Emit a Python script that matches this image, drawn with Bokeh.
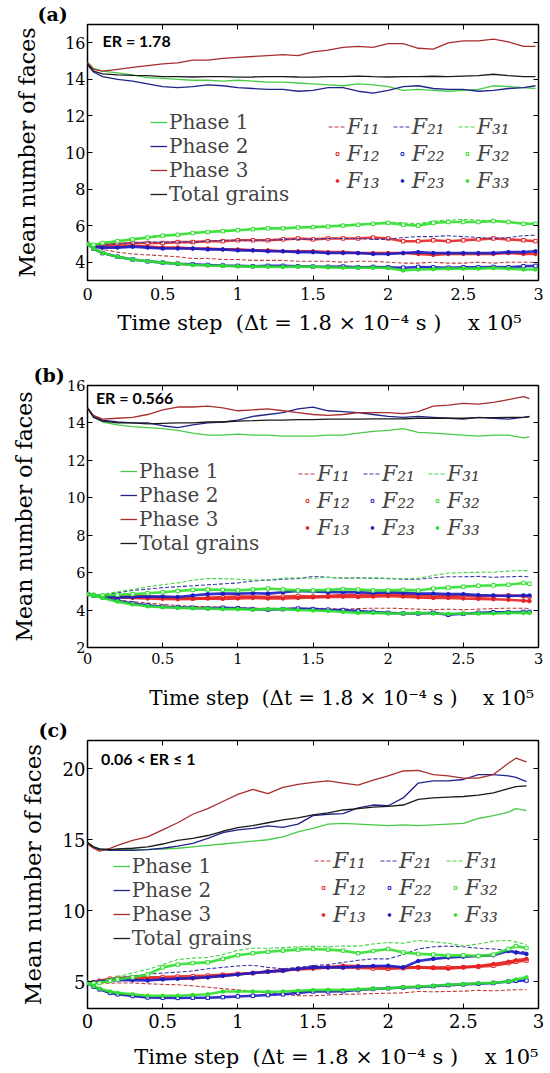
import math
from bokeh.plotting import figure
from bokeh.models import (Range1d, FixedTicker, LinearAxis, Legend, LegendItem,
                          Label, CustomJSTickFormatter)
from bokeh.layouts import column
from bokeh.embed import file_html
from bokeh.resources import INLINE

# ---------------------------------------------------------------- data
X_TICKS = [0, 0.5, 1, 1.5, 2, 2.5, 3]
A_Y_TICKS = [4, 6, 8, 10, 12, 14, 16]
B_Y_TICKS = [2, 4, 6, 8, 10, 12, 14, 16]
C_Y_TICKS = [5, 10, 15, 20]
PHASE_LABELS = ["Phase 1", "Phase 2", "Phase 3", "Total grains"]
F_LABELS = ["F\u2081\u2081", "F\u2081\u2082", "F\u2081\u2083",
            "F\u2082\u2081", "F\u2082\u2082", "F\u2082\u2083",
            "F\u2083\u2081", "F\u2083\u2082", "F\u2083\u2083"]
ER_TEXTS = ["ER = 1.78", "ER = 0.566", "0.06 < ER \u2264 1"]
PANEL_TAGS = ["(a)", "(b)", "(c)"]
Y_TITLE = "Mean number of faces"
X_TITLE = "Time step\u00a0\u00a0(\u0394t = 1.8 \u00d7 10\u207b\u2074 s )\u00a0\u00a0\u00a0\u00a0x 10\u2075"

# panel (a): time step (x 10^5)
XA = [0, 0.04, 0.1, 0.2, 0.3, 0.4, 0.5, 0.6, 0.7, 0.8, 0.9, 1.0, 1.1, 1.2, 1.3, 1.4,
      1.5, 1.6, 1.7, 1.8, 1.9, 2.0, 2.1, 2.2, 2.3, 2.4, 2.5, 2.6, 2.7, 2.8, 2.9, 2.98]
A_PHASE1 = [14.95, 14.6, 14.45, 14.35, 14.25, 14.1, 14.05, 14.0, 13.95, 13.95, 13.9, 13.95, 13.9, 13.85, 13.85, 13.8,
            13.75, 13.7, 13.65, 13.75, 13.7, 13.6, 13.4, 13.45, 13.4, 13.35, 13.4, 13.45, 13.65, 13.6, 13.55, 13.5]
A_PHASE2 = [14.8, 14.4, 14.15, 14.0, 13.9, 13.75, 13.6, 13.55, 13.6, 13.7, 13.65, 13.55, 13.5, 13.45, 13.45, 13.35,
            13.4, 13.55, 13.55, 13.35, 13.25, 13.4, 13.6, 13.65, 13.5, 13.45, 13.45, 13.35, 13.4, 13.5, 13.55, 13.65]
A_PHASE3 = [14.9, 14.55, 14.45, 14.55, 14.65, 14.75, 14.85, 14.9, 15.05, 15.05, 15.15, 15.2, 15.25, 15.3, 15.35, 15.3,
            15.5, 15.6, 15.75, 15.8, 15.75, 15.95, 15.95, 15.7, 15.65, 16.0, 16.1, 16.1, 16.2, 16.05, 15.8, 15.8]
A_TOTAL = [14.85, 14.45, 14.3, 14.25, 14.22, 14.2, 14.15, 14.15, 14.13, 14.15, 14.15, 14.12, 14.13, 14.15, 14.15, 14.13,
           14.12, 14.15, 14.15, 14.18, 14.15, 14.13, 14.15, 14.15, 14.17, 14.15, 14.18, 14.2, 14.28, 14.2, 14.15, 14.15]
A_F11 = [5.0, 4.85, 4.7, 4.55, 4.45, 4.4, 4.35, 4.3, 4.2, 4.2, 4.15, 4.15, 4.1, 4.1, 4.1, 4.05,
         4.05, 4.05, 4.0, 4.05, 4.05, 4.0, 3.95, 3.95, 4.0, 3.95, 3.95, 4.0, 3.95, 4.0, 4.0, 4.0]
A_F12 = [5.0, 4.9, 4.95, 5.0, 5.05, 5.05, 5.05, 5.1, 5.1, 5.15, 5.15, 5.2, 5.2, 5.2, 5.25, 5.3,
         5.25, 5.3, 5.3, 5.3, 5.35, 5.3, 5.15, 5.15, 5.2, 5.15, 5.2, 5.25, 5.3, 5.25, 5.2, 5.15]
A_F13 = [5.0, 4.9, 4.85, 4.85, 4.9, 4.85, 4.8, 4.8, 4.75, 4.75, 4.7, 4.7, 4.65, 4.65, 4.6, 4.6,
         4.6, 4.55, 4.55, 4.5, 4.5, 4.5, 4.5, 4.45, 4.4, 4.45, 4.45, 4.45, 4.45, 4.5, 4.45, 4.45]
A_F21 = [5.0, 4.9, 4.95, 5.0, 5.05, 5.1, 5.1, 5.1, 5.1, 5.15, 5.2, 5.2, 5.2, 5.2, 5.25, 5.25,
         5.25, 5.3, 5.3, 5.3, 5.25, 5.25, 5.35, 5.4, 5.4, 5.45, 5.4, 5.35, 5.3, 5.35, 5.45, 5.48]
A_F22 = [5.0, 4.75, 4.5, 4.3, 4.15, 4.05, 3.98, 3.92, 3.88, 3.85, 3.82, 3.8, 3.78, 3.8, 3.8, 3.78,
         3.76, 3.75, 3.76, 3.72, 3.74, 3.72, 3.7, 3.74, 3.72, 3.7, 3.72, 3.72, 3.74, 3.72, 3.78, 3.8]
A_F23 = [5.0, 4.85, 4.8, 4.8, 4.85, 4.8, 4.75, 4.75, 4.75, 4.7, 4.7, 4.65, 4.65, 4.6, 4.6, 4.55,
         4.55, 4.5, 4.5, 4.5, 4.45, 4.45, 4.5, 4.55, 4.5, 4.5, 4.5, 4.5, 4.5, 4.55, 4.55, 4.6]
A_F31 = [5.0, 4.95, 5.08, 5.18, 5.28, 5.38, 5.48, 5.53, 5.62, 5.68, 5.72, 5.78, 5.82, 5.88, 5.88, 5.92,
         5.95, 5.98, 6.03, 6.08, 6.12, 6.2, 6.15, 6.1, 6.25, 6.3, 6.35, 6.3, 6.25, 6.2, 6.15, 6.1]
A_F32 = [5.0, 4.95, 5.05, 5.15, 5.25, 5.35, 5.45, 5.5, 5.6, 5.65, 5.7, 5.75, 5.8, 5.85, 5.85, 5.9,
         5.92, 5.95, 6.0, 6.05, 6.1, 6.15, 6.05, 6.0, 6.15, 6.2, 6.2, 6.2, 6.25, 6.2, 6.1, 6.1]
A_F33 = [5.0, 4.75, 4.5, 4.3, 4.15, 4.05, 3.98, 3.92, 3.85, 3.82, 3.8, 3.78, 3.76, 3.75, 3.74, 3.76,
         3.75, 3.72, 3.7, 3.7, 3.7, 3.68, 3.55, 3.6, 3.62, 3.65, 3.65, 3.65, 3.68, 3.65, 3.6, 3.6]

# panel (b)
XB = [0, 0.04, 0.1, 0.2, 0.3, 0.4, 0.5, 0.6, 0.7, 0.8, 0.9, 1.0, 1.1, 1.2, 1.3, 1.4,
      1.5, 1.6, 1.7, 1.8, 1.9, 2.0, 2.1, 2.2, 2.3, 2.4, 2.5, 2.6, 2.7, 2.8, 2.9, 2.94]
B_PHASE1 = [14.8, 14.35, 14.05, 13.9, 13.8, 13.75, 13.7, 13.6, 13.45, 13.35, 13.35, 13.4, 13.35, 13.35, 13.3, 13.3,
            13.3, 13.35, 13.35, 13.45, 13.55, 13.6, 13.7, 13.5, 13.45, 13.4, 13.35, 13.3, 13.35, 13.35, 13.2, 13.25]
B_PHASE2 = [14.8, 14.35, 14.15, 14.05, 14.0, 14.0, 13.85, 13.75, 13.9, 14.0, 14.05, 14.15, 14.35, 14.45, 14.55, 14.75,
            14.85, 14.65, 14.6, 14.55, 14.45, 14.35, 14.3, 14.35, 14.3, 14.25, 14.2, 14.3, 14.25, 14.2, 14.3, 14.35]
B_PHASE3 = [14.8, 14.4, 14.2, 14.25, 14.3, 14.45, 14.7, 14.85, 14.85, 14.9, 14.8, 14.65, 14.7, 14.75, 14.65, 14.55,
            14.45, 14.4, 14.45, 14.55, 14.55, 14.55, 14.5, 14.6, 14.9, 14.95, 15.05, 15.0, 15.1, 15.25, 15.4, 15.3]
B_TOTAL = [14.8, 14.3, 14.1, 14.0, 14.0, 13.95, 13.98, 14.0, 14.0, 14.05, 14.05, 14.1, 14.12, 14.15, 14.15, 14.18,
           14.18, 14.2, 14.2, 14.2, 14.22, 14.22, 14.22, 14.25, 14.25, 14.25, 14.25, 14.28, 14.28, 14.3, 14.3, 14.32]
B_F11 = [4.85, 4.78, 4.7, 4.55, 4.45, 4.38, 4.3, 4.25, 4.2, 4.18, 4.15, 4.12, 4.1, 4.1, 4.08, 4.1,
         4.1, 4.08, 4.05, 4.08, 4.1, 4.1, 4.08, 4.05, 4.02, 4.05, 4.02, 4.05, 4.08, 4.1, 4.1, 4.08]
B_F12 = [4.85, 4.8, 4.75, 4.72, 4.75, 4.72, 4.68, 4.65, 4.62, 4.65, 4.7, 4.72, 4.72, 4.7, 4.72, 4.75,
         4.72, 4.75, 4.8, 4.82, 4.82, 4.85, 4.82, 4.8, 4.78, 4.75, 4.78, 4.72, 4.75, 4.78, 4.75, 4.72]
B_F13 = [4.85, 4.8, 4.72, 4.68, 4.65, 4.62, 4.6, 4.58, 4.6, 4.62, 4.6, 4.62, 4.65, 4.62, 4.62, 4.65,
         4.68, 4.7, 4.72, 4.7, 4.72, 4.75, 4.72, 4.68, 4.65, 4.65, 4.62, 4.6, 4.58, 4.55, 4.5, 4.48]
B_F21 = [4.85, 4.82, 4.82, 4.92, 5.05, 5.12, 5.2, 5.25, 5.3, 5.35, 5.4, 5.45, 5.55, 5.6, 5.65, 5.68,
         5.8, 5.75, 5.7, 5.72, 5.7, 5.68, 5.65, 5.65, 5.72, 5.78, 5.78, 5.8, 5.75, 5.78, 5.8, 5.78]
B_F22 = [4.85, 4.78, 4.68, 4.5, 4.35, 4.25, 4.18, 4.15, 4.12, 4.1, 4.12, 4.1, 4.05, 4.02, 4.05, 4.08,
         4.05, 4.02, 4.0, 3.95, 3.9, 3.85, 3.82, 3.82, 3.85, 3.75, 3.8, 3.85, 3.88, 3.88, 3.9, 3.9]
B_F23 = [4.85, 4.8, 4.75, 4.68, 4.7, 4.72, 4.72, 4.7, 4.78, 4.85, 4.88, 4.88, 4.9, 4.88, 4.95, 5.02,
         5.0, 4.95, 4.95, 4.95, 4.92, 4.95, 4.92, 4.88, 4.88, 4.85, 4.85, 4.8, 4.78, 4.75, 4.78, 4.78]
B_F31 = [4.85, 4.82, 4.85, 4.98, 5.1, 5.25, 5.35, 5.45, 5.6, 5.68, 5.68, 5.65, 5.6, 5.62, 5.7, 5.72,
         5.7, 5.75, 5.72, 5.7, 5.72, 5.7, 5.68, 5.7, 5.85, 5.98, 6.0, 6.02, 6.02, 6.08, 6.12, 6.08]
B_F32 = [4.85, 4.8, 4.78, 4.82, 4.85, 4.9, 4.95, 5.02, 5.08, 5.1, 5.08, 5.05, 5.1, 5.15, 5.1, 5.05,
         5.05, 5.08, 5.12, 5.1, 5.05, 5.05, 5.08, 5.05, 5.15, 5.2, 5.25, 5.3, 5.32, 5.35, 5.45, 5.4]
B_F33 = [4.85, 4.78, 4.65, 4.45, 4.3, 4.2, 4.15, 4.12, 4.1, 4.08, 4.05, 4.05, 4.02, 4.05, 4.05, 4.0,
         3.98, 3.95, 3.9, 3.85, 3.85, 3.82, 3.82, 3.85, 3.82, 3.8, 3.82, 3.82, 3.82, 3.85, 3.85, 3.85]

# panel (c)
XC = [0, 0.04, 0.08, 0.15, 0.2, 0.3, 0.4, 0.5, 0.6, 0.7, 0.8, 0.9, 1.0, 1.1, 1.2, 1.3, 1.4,
      1.5, 1.6, 1.7, 1.8, 1.9, 2.0, 2.1, 2.2, 2.3, 2.4, 2.5, 2.6, 2.7, 2.8, 2.85, 2.92]
C_PHASE1 = [14.8, 14.5, 14.35, 14.3, 14.3, 14.3, 14.3, 14.35, 14.4, 14.5, 14.6, 14.7, 14.8, 14.9, 15.0, 15.2, 15.55,
            15.8, 16.1, 16.15, 16.1, 16.05, 16.0, 16.05, 16.0, 16.05, 16.1, 16.15, 16.5, 16.7, 16.95, 17.2, 17.05]
C_PHASE2 = [14.8, 14.45, 14.3, 14.25, 14.25, 14.25, 14.3, 14.4, 14.55, 14.75, 15.1, 15.5, 15.7, 15.8, 15.98, 15.87, 16.1,
            16.7, 16.8, 16.85, 17.25, 17.45, 17.4, 17.95, 19.0, 19.15, 19.15, 19.25, 19.6, 19.6, 19.5, 19.4, 19.1]
C_PHASE3 = [14.7, 14.4, 14.2, 14.4, 14.6, 14.95, 15.2, 15.7, 16.2, 16.8, 17.2, 17.7, 18.2, 18.55, 18.25, 18.7, 18.9,
            19.05, 19.15, 19.0, 18.85, 19.2, 19.5, 19.85, 19.9, 19.6, 19.5, 19.35, 19.35, 19.6, 20.4, 20.75, 20.5]
C_TOTAL = [14.8, 14.5, 14.35, 14.3, 14.35, 14.4, 14.5, 14.7, 14.95, 15.1, 15.3, 15.6, 15.85, 16.0, 16.2, 16.4, 16.55,
           16.75, 16.9, 17.1, 17.2, 17.3, 17.35, 17.45, 17.85, 17.95, 18.0, 18.05, 18.15, 18.3, 18.6, 18.75, 18.8]
C_F11 = [4.9, 4.9, 4.88, 4.88, 4.9, 4.9, 4.85, 4.8, 4.77, 4.7, 4.6, 4.5, 4.42, 4.3, 4.2, 4.1, 4.0,
         4.0, 4.05, 4.1, 4.12, 4.15, 4.18, 4.2, 4.3, 4.28, 4.3, 4.32, 4.38, 4.35, 4.4, 4.42, 4.42]
C_F12 = [4.9, 4.95, 5.05, 5.2, 5.25, 5.3, 5.3, 5.32, 5.35, 5.38, 5.42, 5.48, 5.54, 5.6, 5.7, 5.77, 5.9,
         6.0, 6.02, 6.0, 5.98, 5.92, 5.9, 5.95, 6.0, 5.98, 6.0, 6.02, 6.05, 6.12, 6.3, 6.4, 6.48]
C_F13 = [4.9, 4.95, 5.0, 5.1, 5.15, 5.2, 5.19, 5.2, 5.2, 5.22, 5.3, 5.42, 5.5, 5.6, 5.7, 5.8, 5.85,
         5.9, 6.0, 6.12, 6.1, 6.05, 6.0, 6.0, 6.0, 5.95, 5.9, 6.0, 6.1, 6.24, 6.4, 6.5, 6.6]
C_F21 = [4.9, 4.9, 4.95, 5.15, 5.25, 5.4, 5.52, 5.6, 5.66, 5.75, 5.9, 6.0, 6.1, 6.15, 6.0, 5.9, 6.0,
         6.12, 6.2, 6.35, 6.5, 6.6, 6.6, 6.9, 7.3, 7.45, 7.5, 7.45, 7.35, 7.3, 7.2, 7.15, 7.07]
C_F22 = [4.9, 4.65, 4.45, 4.2, 4.1, 3.98, 3.88, 3.86, 3.85, 3.86, 3.86, 3.9, 3.95, 4.0, 4.05, 4.1, 4.2,
         4.3, 4.3, 4.32, 4.4, 4.48, 4.53, 4.58, 4.62, 4.68, 4.75, 4.8, 4.85, 4.9, 5.0, 5.05, 5.07]
C_F23 = [4.9, 4.95, 5.0, 5.1, 5.1, 5.1, 5.07, 5.15, 5.2, 5.25, 5.3, 5.4, 5.5, 5.6, 5.7, 5.77, 5.9,
         6.0, 6.0, 6.0, 6.05, 6.1, 6.12, 6.0, 6.45, 6.6, 6.7, 6.75, 6.8, 6.85, 7.15, 7.05, 6.95]
C_F31 = [4.9, 4.9, 4.95, 5.2, 5.35, 5.6, 5.85, 6.2, 6.55, 6.65, 6.7, 6.9, 7.2, 7.35, 7.35, 7.4, 7.45,
         7.5, 7.45, 7.5, 7.5, 7.65, 7.75, 7.7, 7.9, 7.8, 7.7, 7.5, 7.65, 7.85, 7.9, 7.8, 7.6]
C_F32 = [4.9, 4.88, 4.9, 5.05, 5.15, 5.3, 5.5, 6.0, 6.2, 6.3, 6.35, 6.6, 6.85, 7.0, 7.1, 7.18, 7.25,
         7.3, 7.25, 7.18, 7.0, 7.15, 7.3, 7.05, 6.95, 6.9, 6.83, 6.85, 6.8, 6.9, 7.3, 7.5, 7.37]
C_F33 = [4.9, 4.7, 4.5, 4.3, 4.2, 4.1, 4.0, 4.0, 4.0, 4.05, 4.1, 4.3, 4.3, 4.3, 4.28, 4.3, 4.35,
         4.4, 4.42, 4.4, 4.45, 4.5, 4.53, 4.6, 4.65, 4.7, 4.77, 4.82, 4.88, 4.92, 5.0, 5.15, 5.3]

# ---------------------------------------------------------------- style
SERIF = "DejaVu Serif"
SANS = "Lato"
NB = "\u00a0"
PHASE_COLORS = ["#46cc46", "#22228c", "#a82e2e", "#1a1a1a"]
F_COLORS = ["#c03a3a", "#e42424", "#e42424",
            "#3a3aa8", "#1c1cc4", "#1c1cc4",
            "#44d444", "#30e030", "#30e030"]
F_KINDS = ["dash", "sq", "dot"] * 3

# page-pixel layout of each panel (frame edges L,R,T,B in page coordinates)
PANELS = [
    dict(top=0, h=345, L=83, R=538, T=23, B=280, yr=(3, 17), yticks=A_Y_TICKS, tfs="16px", xstand=7,
         x=XA, phases=[A_PHASE1, A_PHASE2, A_PHASE3, A_TOTAL],
         fs=[A_F11, A_F12, A_F13, A_F21, A_F22, A_F23, A_F31, A_F32, A_F33],
         er=(98, 40), yfs="22px", ystand=22, xfs="21px", xtstand=8, lead=2,
         leg1=(146, 74), leg2=(323.7, 86.8, 44)),
    dict(top=345, h=368, L=87, R=540, T=385, B=647, yr=(2, 16), yticks=B_Y_TICKS, tfs="14.5px", xstand=5,
         x=XB, phases=[B_PHASE1, B_PHASE2, B_PHASE3, B_TOTAL],
         fs=[B_F11, B_F12, B_F13, B_F21, B_F22, B_F23, B_F31, B_F32, B_F33],
         er=(95.4, 397), yfs="22px", ystand=27, xfs="20px", xtstand=19, lead=9,
         leg1=(120, 92), leg2=(298, 107.5, 44)),
    dict(top=713, h=360, L=82, R=541, T=740, B=1008, yr=(3.1, 22), yticks=C_Y_TICKS, tfs="18px", xstand=5,
         x=XC, phases=[C_PHASE1, C_PHASE2, C_PHASE3, C_TOTAL],
         fs=[C_F11, C_F12, C_F13, C_F21, C_F22, C_F23, C_F31, C_F32, C_F33],
         er=(95.4, 758), yfs="23px", ystand=14, xfs="21px", xtstand=14, lead=7,
         leg1=(107.7, 58), leg2=(309, 81.5, 45)),
]

TICK_FMT = CustomJSTickFormatter(code="return String(tick)")
BLANK_FMT = CustomJSTickFormatter(code="return ''")


def style_axis(ax, ticks, size, standoff, show_labels=True):
    ax.ticker = FixedTicker(ticks=ticks)
    ax.axis_line_color = None
    ax.major_tick_in = 5
    ax.major_tick_out = 0
    ax.major_tick_line_color = "black"
    ax.minor_tick_line_color = None
    ax.major_label_standoff = standoff
    ax.major_label_text_font = SERIF
    ax.major_label_text_color = "black"
    if show_labels:
        ax.formatter = TICK_FMT
        ax.major_label_text_font_size = size
    else:
        ax.formatter = BLANK_FMT
        ax.major_label_text_font_size = "1px"


def build(idx, cfg):
    h = cfg["h"]
    top = cfg["top"]
    p = figure(width=550, height=h, x_range=Range1d(0, 3), y_range=Range1d(*cfg["yr"]),
               output_backend="svg", toolbar_location=None,
               min_border_left=cfg["L"], min_border_right=550 - cfg["R"],
               min_border_top=cfg["T"] - top, min_border_bottom=top + h - cfg["B"])
    p.xgrid.visible = False
    p.ygrid.visible = False
    p.outline_line_color = "black"
    p.outline_line_width = 1.5
    p.background_fill_color = "white"
    p.border_fill_color = "white"

    # panel tag as the plot title, pushed to the left edge
    p.title.text = PANEL_TAGS[idx]
    p.title.align = "left"
    p.title.offset = 33 - cfg["L"]
    p.title.standoff = 0
    p.title.text_font = SERIF
    p.title.text_font_size = "19px"
    p.title.text_font_style = "bold"
    p.title.text_color = "black"

    xax = p.xaxis[0]
    yax = p.yaxis[0]
    style_axis(xax, X_TICKS, cfg["tfs"], cfg["xstand"])
    style_axis(yax, cfg["yticks"], cfg["tfs"], 2)
    yax.axis_label = Y_TITLE
    yax.axis_label_text_font = SERIF
    yax.axis_label_text_font_size = cfg["yfs"]
    yax.axis_label_text_font_style = "normal"
    yax.axis_label_text_color = "black"
    yax.axis_label_standoff = cfg["ystand"]
    xax.axis_label = NB * cfg["lead"] + X_TITLE
    xax.axis_label_text_font = SERIF
    xax.axis_label_text_font_size = cfg["xfs"]
    xax.axis_label_text_font_style = "normal"
    xax.axis_label_text_color = "black"
    xax.axis_label_standoff = cfg["xtstand"]

    top_ax = LinearAxis()
    style_axis(top_ax, X_TICKS, cfg["tfs"], 0, show_labels=False)
    p.add_layout(top_ax, "above")
    right_ax = LinearAxis()
    style_axis(right_ax, cfg["yticks"], cfg["tfs"], 0, show_labels=False)
    p.add_layout(right_ax, "right")

    xs = cfg["x"]
    # component-face curves
    f_items = []
    for lab, ys, col, kind in zip(F_LABELS, cfg["fs"], F_COLORS, F_KINDS):
        if kind == "dash":
            r = p.line(xs, ys, line_color=col, line_width=1.1, line_dash="4 2")
        else:
            p.line(xs, ys, line_color=col, line_width=2.6, line_alpha=0.9)
            if kind == "sq":
                r = p.scatter(xs, ys, marker="square", size=3.5, line_color=col,
                              fill_color="white", line_width=1)
            else:
                r = p.scatter(xs, ys, marker="circle", size=3.5, line_color=col, fill_color=col)
        f_items.append(LegendItem(label=lab, renderers=[r]))

    # phase averages
    ph_items = []
    for lab, ys, col in zip(PHASE_LABELS, cfg["phases"], PHASE_COLORS):
        r = p.line(xs, ys, line_color=col, line_width=1.3)
        ph_items.append(LegendItem(label=lab, renderers=[r]))

    gx, gy = cfg["leg1"]
    leg1 = Legend(items=ph_items, location=(gx - cfg["L"], gy),
                  orientation="vertical", padding=0, margin=0, spacing=0,
                  glyph_width=17, glyph_height=18, label_standoff=2, label_height=18,
                  label_text_font=SERIF, label_text_font_size="20px",
                  background_fill_alpha=0, border_line_color=None)
    p.add_layout(leg1)

    fx, fy, lw = cfg["leg2"]
    leg2 = Legend(items=f_items, ncols=3, location=(fx - cfg["L"], fy),
                  orientation="vertical", padding=0, margin=0, spacing=2,
                  glyph_width=18, glyph_height=7, label_standoff=1, label_width=lw, label_height=18,
                  label_text_font=SERIF, label_text_font_style="italic", label_text_font_size="22px",
                  background_fill_alpha=0, border_line_color=None)
    p.add_layout(leg2)

    ex, ey = cfg["er"]
    p.add_layout(Label(x=ex - cfg["L"], y=cfg["B"] - ey, x_units="screen", y_units="screen",
                       text=ER_TEXTS[idx], text_font=SANS, text_font_size="16px",
                       text_font_style="bold", text_baseline="middle", text_color="black"))
    return p


figs = [build(i, c) for i, c in enumerate(PANELS)]
layout = column(*figs, spacing=0)
open("out.html", "w").write(file_html(layout, INLINE))
